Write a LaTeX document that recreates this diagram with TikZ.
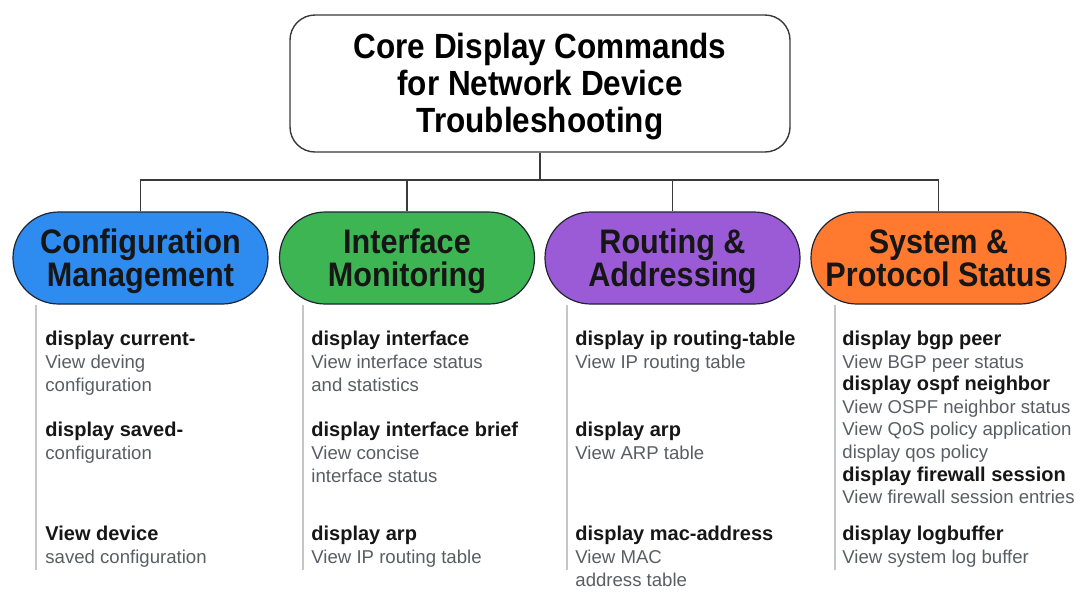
\documentclass[tikz,border=0pt]{standalone}
\usepackage{fontspec}
\setmainfont{Liberation Sans}
\newfontfamily\headfont[FakeStretch=0.9]{Liberation Sans}
\usepackage{xcolor}
\usetikzlibrary{positioning,calc}

\definecolor{cfgblue}{HTML}{2E8CF0}
\definecolor{intgreen}{HTML}{3DB552}
\definecolor{routpurple}{HTML}{9B5BD6}
\definecolor{sysorange}{HTML}{FF7A2E}
\definecolor{pillline}{HTML}{1F2433}
\definecolor{treeline}{HTML}{3A3A3A}
\definecolor{sidegray}{HTML}{C4C6C8}
\definecolor{cmdtext}{HTML}{161616}
\definecolor{desctext}{HTML}{5A5E64}

\newcommand{\cmdname}[1]{{\bfseries\color{cmdtext}#1}}
\newcommand{\cmdnote}[1]{{\fontsize{9.3}{11.5}\selectfont\color{desctext}#1}}
\newcommand{\headstrut}[1]{\rule{0pt}{#1}}
\newcommand{\lowstrut}{\rule[-3.6pt]{0pt}{3.6pt}}

\tikzset{
  titlebox/.style={draw=treeline, line width=0.7pt, rounded corners=12.5pt,
    minimum width=250pt, minimum height=68.5pt, align=center,
    font=\headfont\bfseries\fontsize{17.5}{18.5}\selectfont},
  pill/.style={draw=pillline, line width=0.6pt, rounded corners=22.9pt,
    minimum width=127.5pt, minimum height=46pt, inner sep=0pt, align=center,
    text=cmdtext, font=\headfont\bfseries\fontsize{17}{16.5}\selectfont},
  tree/.style={draw=treeline, line width=0.7pt},
  sideline/.style={draw=sidegray, line width=0.8pt},
  cmdblock/.style={anchor=north west, align=left, inner sep=0pt,
    font=\fontsize{10}{11.5}\selectfont},
}

\begin{document}
\begin{tikzpicture}[x=0.5pt,y=-0.5pt]
  \useasboundingbox[fill=white] (0,0) rectangle (1080,607);

  % Title
  \node[titlebox] (title) at (540,83.5) {\headstrut{15.8pt}Core Display Commands\\for Network Device\\Troubleshooting};

  % Categories
  \node[pill,fill=cfgblue] (cfg) at (140.5,258) {\headstrut{15.4pt}Configuration\\Management\lowstrut};
  \node[pill,fill=intgreen] (intf) at (407,258) {\headstrut{15.4pt}Interface\\Monitoring\lowstrut};
  \node[pill,fill=routpurple] (rout) at (672.5,258) {\headstrut{15.4pt}Routing \&\\Addressing\lowstrut};
  \node[pill,fill=sysorange] (sys) at (938.5,258) {\headstrut{15.4pt}System \&\\Protocol Status\lowstrut};

  % Tree connectors
  \coordinate (split) at (540,180);
  \draw[tree] (title.south) -- (split);
  \draw[tree] (cfg.north) |- (split) -| (sys.north);
  \draw[tree] (intf.north) -- (intf.north |- split);
  \draw[tree] (rout.north) -- (rout.north |- split);

  % Side lines
  \coordinate (cfgend) at (36,570);
  \coordinate (intfend) at (303,570);
  \coordinate (routend) at (567,570);
  \coordinate (sysend) at (835,570);
  \draw[sideline] (cfg.south -| cfgend) -- (cfgend);
  \draw[sideline] (intf.south -| intfend) -- (intfend);
  \draw[sideline] (rout.south -| routend) -- (routend);
  \draw[sideline] (sys.south -| sysend) -- (sysend);

  % Configuration Management
  \node[cmdblock] (cfgA) at (45,330.5) {\cmdname{display current-}\\\cmdnote{View deving}\\\cmdnote{configuration}};
  \node[cmdblock] (cfgB) at (45,421.5) {\cmdname{display saved-}\\\cmdnote{configuration}};
  \node[cmdblock] (cfgC) at (45,525.5) {\cmdname{View device}\\\cmdnote{saved configuration}};

  % Interface Monitoring
  \node[cmdblock] (intfA) at (311,330.5) {\cmdname{display interface}\\\cmdnote{View interface status}\\\cmdnote{and statistics}};
  \node[cmdblock] (intfB) at (311,421.5) {\cmdname{display interface brief}\\\cmdnote{View concise}\\\cmdnote{interface status}};
  \node[cmdblock] (intfC) at (311,525.5) {\cmdname{display arp}\\\cmdnote{View IP routing table}};

  % Routing & Addressing
  \node[cmdblock] (routA) at (575,330.5) {\cmdname{display ip routing-table}\\\cmdnote{View IP routing table}};
  \node[cmdblock] (routB) at (575,421.5) {\cmdname{display arp}\\\cmdnote{View ARP table}};
  \node[cmdblock] (routC) at (575,525.5) {\cmdname{display mac-address}\\\cmdnote{View MAC}\\\cmdnote{address table}};

  % System & Protocol Status
  \node[cmdblock,font=\fontsize{10}{11.3}\selectfont] (sysA) at (842,330.5) {\cmdname{display bgp peer}\\\cmdnote{View BGP peer status}\\\cmdname{display ospf neighbor}\\\cmdnote{View OSPF neighbor status}\\\cmdnote{View QoS policy application}\\\cmdnote{display qos policy}\\\cmdname{display firewall session}\\\cmdnote{View firewall session entries}};
  \node[cmdblock] (sysB) at (842,525.5) {\cmdname{display logbuffer}\\\cmdnote{View system log buffer}};
\end{tikzpicture}
\end{document}
